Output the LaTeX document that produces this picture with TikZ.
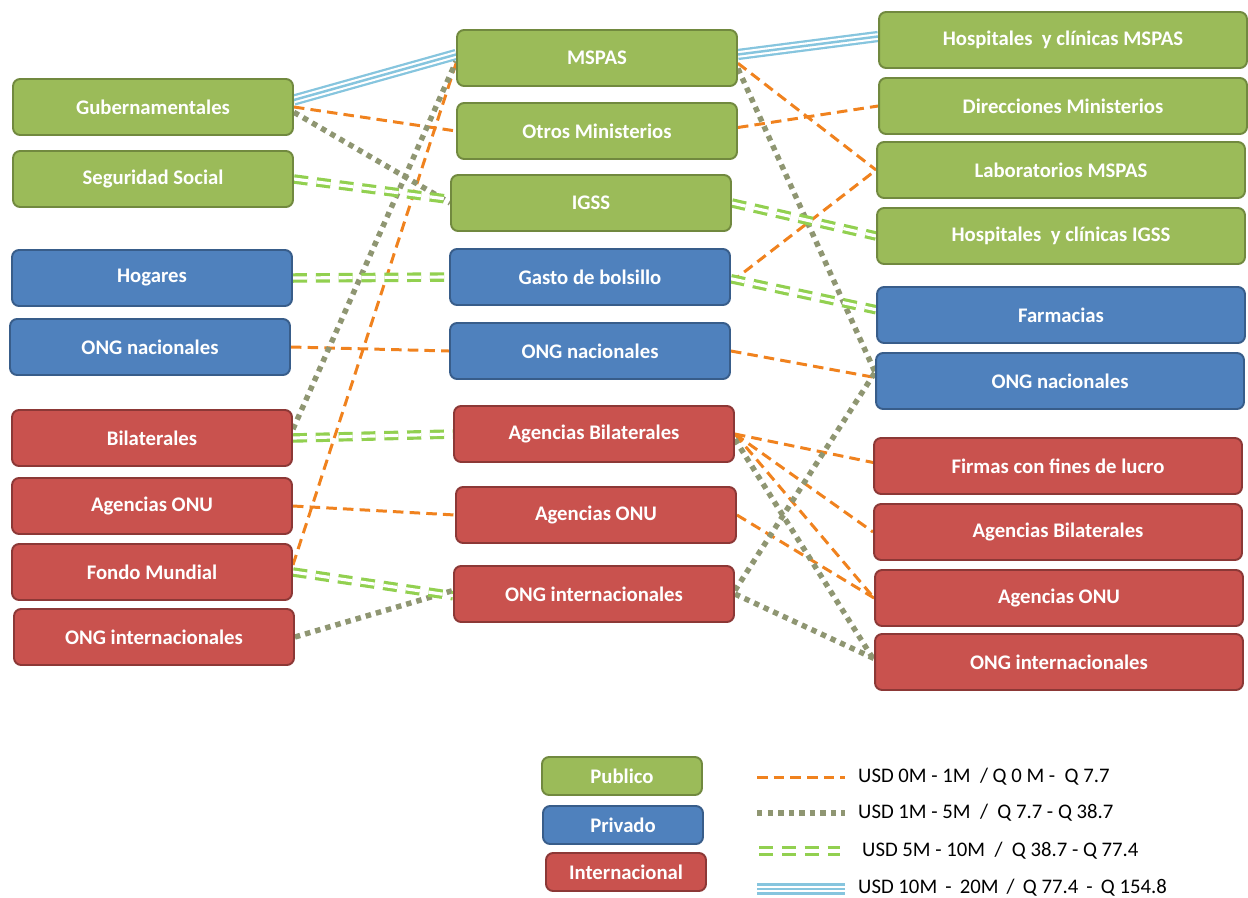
\documentclass[tikz,border=0pt]{standalone}
\usepackage{fontspec}
\setmainfont{Carlito}
\usepackage{tikz}
\usetikzlibrary{backgrounds}

\definecolor{pubfill}{HTML}{9BBB59}
\definecolor{pubedge}{HTML}{71893F}
\definecolor{privfill}{HTML}{4F81BD}
\definecolor{privedge}{HTML}{385D8A}
\definecolor{intfill}{HTML}{C9524E}
\definecolor{intedge}{HTML}{8C3836}
\definecolor{flowA}{HTML}{F0821E}
\definecolor{flowB}{HTML}{8F9672}
\definecolor{flowC}{HTML}{92D050}
\definecolor{flowD}{HTML}{86C5DE}

\tikzset{
  boxbase/.style={ rounded corners=4pt, line width=1.1pt, minimum width=5.6cm,
    minimum height=1.12cm, text=white, font=\bfseries\fontsize{11.8}{13}\selectfont }
}
\tikzset{
  pubbox/.style={ boxbase, draw=pubedge, fill=pubfill }
}
\tikzset{
  privbox/.style={ boxbase, draw=privedge, fill=privfill }
}
\tikzset{
  intbox/.style={ boxbase, draw=intedge, fill=intfill }
}
\tikzset{
  widebox/.style={ minimum width=7.36cm }
}
\tikzset{
  keybox/.style={ minimum width=3.2cm, minimum height=0.76cm }
}
% flow bands
\tikzset{
  lowflow/.style={ flowA, line width=1.7pt, dash pattern=on 6pt off 3.5pt },
  midflow/.style={ flowB, line width=3.1pt, dash pattern=on 3.1pt off 2.9pt },
  highflow/.style={ flowC, line width=1.8pt, double=white, double distance=1.8pt,
    dash pattern=on 8pt off 5pt },
  topflow/.style={ flowD, line width=6.4pt, postaction={draw, white, line width=3.8pt},
    postaction={draw, flowD, line width=1.4pt} }
}

\begin{document}
\begin{tikzpicture}[x=0.02cm, y=-0.02cm]
  \useasboundingbox (0,0) rectangle (1248,897);

  % sources
  \node[pubbox] (gub) at (153,107) {Gubernamentales};
  \node[pubbox] (segsoc) at (153,179) {Seguridad Social};
  \node[privbox] (hog) at (152,278) {Hogares};
  \node[privbox] (ongnacL) at (150,347) {ONG nacionales};
  \node[intbox] (bil) at (152,438) {Bilaterales};
  \node[intbox] (agonuL) at (152,506) {Agencias ONU};
  \node[intbox] (fondo) at (152,572) {Fondo Mundial};
  \node[intbox] (ongintL) at (154,637) {ONG internacionales};

  % agents
  \node[pubbox] (mspas) at (597,58) {MSPAS};
  \node[pubbox] (otros) at (597,131) {Otros Ministerios};
  \node[pubbox] (igss) at (591,203) {IGSS};
  \node[privbox] (gasto) at (590,277) {Gasto de bolsillo};
  \node[privbox] (ongnacM) at (590,351) {ONG nacionales};
  \node[intbox] (agbilM) at (594,434) {Agencias Bilaterales};
  \node[intbox] (agonuM) at (596,515) {Agencias ONU};
  \node[intbox] (ongintM) at (594,594) {ONG internacionales};

  % providers
  \node[pubbox, widebox] (hmspas) at (1063,40) {Hospitales\ \ y clínicas MSPAS};
  \node[pubbox, widebox] (dirmin) at (1063,106) {Direcciones Ministerios};
  \node[pubbox, widebox] (lab) at (1061,170) {Laboratorios MSPAS};
  \node[pubbox, widebox] (higss) at (1061,236) {Hospitales\ \ y clínicas IGSS};
  \node[privbox, widebox] (farm) at (1061,315) {Farmacias};
  \node[privbox, widebox] (ongnacR) at (1060,381) {ONG nacionales};
  \node[intbox, widebox] (firmas) at (1058,466) {Firmas con fines de lucro};
  \node[intbox, widebox] (agbilR) at (1058,532) {Agencias Bilaterales};
  \node[intbox, widebox] (agonuR) at (1059,598) {Agencias ONU};
  \node[intbox, widebox] (ongintR) at (1059,662) {ONG internacionales};

  % key
  \node[pubbox, keybox] (kpub) at (622,776) {Publico};
  \node[privbox, keybox] (kpriv) at (623,825) {Privado};
  \node[intbox, keybox] (kint) at (626,872) {Internacional};

  \begin{scope}[font=\fontsize{11.8}{13}\selectfont, anchor=west]
    \node (tA) at (852,777) {USD 0M - 1M\ \ / Q 0 M -\ \ Q 7.7};
    \node (tB) at (852,813) {USD 1M - 5M\ \ /\ \ Q 7.7 - Q 38.7};
    \node (tC) at (856,851) {USD 5M - 10M\ \ /\ \ Q 38.7 - Q 77.4};
    \node (tD) at (852,888) {USD 10M\,\ -\,\ 20M\,\ /\,\ Q 77.4\,\ -\,\ Q 154.8};
  \end{scope}
  \coordinate (kA1) at (757,777); \coordinate (kA2) at (845,777);
  \coordinate (kB1) at (757,813); \coordinate (kB2) at (845,813);
  \coordinate (kC1) at (759,851); \coordinate (kC2) at (840,851);
  \coordinate (kD1) at (757,889); \coordinate (kD2) at (845,889);

  \begin{scope}[on background layer]
    \draw[lowflow] (kA1) -- (kA2);
    \draw[midflow] (kB1) -- (kB2);
    \draw[highflow] (kC1) -- (kC2);
    \draw[topflow] (kD1) -- (kD2);

    \draw[topflow] ([yshift=4pt]gub.east) -- ([yshift=2pt]mspas.west);
    \draw[topflow] ([yshift=2pt]mspas.east) -- ([yshift=2pt]hmspas.west);

    \draw[lowflow] (gub.east) -- (otros.west);
    \draw[lowflow] ([yshift=2pt]otros.east) -- (dirmin.west);
    \draw[lowflow] ([yshift=-3pt]mspas.east) -- (lab.west);
    \draw[lowflow] ([yshift=-3pt]gasto.east) -- (lab.west);
    \draw[lowflow] (ongnacL.east) -- (ongnacM.west);
    \draw[lowflow] (ongnacM.east) -- ([yshift=2pt]ongnacR.west);
    \draw[lowflow] (agonuL.east) -- (agonuM.west);
    \draw[lowflow] (agbilM.east) -- ([yshift=2pt]firmas.west);
    \draw[lowflow] (agbilM.east) -- (agbilR.west);
    \draw[lowflow] (agbilM.east) -- (agonuR.west);
    \draw[lowflow] (agonuM.east) -- (agonuR.west);
    \draw[lowflow] ([yshift=4pt]fondo.east) -- ([yshift=-3pt]mspas.west);

    \draw[midflow] ([yshift=-3pt]gub.east) -- (igss.west);
    \draw[midflow] ([yshift=5pt]bil.east) -- ([yshift=-2pt]mspas.west);
    \draw[midflow] ([yshift=-6pt]mspas.east) -- ([yshift=5pt]ongnacR.west);
    \draw[midflow] ([yshift=2pt]ongintM.east) -- ([yshift=5pt]ongnacR.west);
    \draw[midflow] (ongintL.east) -- ([yshift=2pt]ongintM.west);
    \draw[midflow] (ongintM.east) -- ([yshift=2pt]ongintR.west);
    \draw[midflow] ([yshift=-3pt]agbilM.east) -- ([yshift=1pt]ongintR.west);

    \draw[highflow] (segsoc.east) -- ([yshift=2pt]igss.west);
    \draw[highflow] (igss.east) -- (higss.west);
    \draw[highflow] (hog.east) -- (gasto.west);
    \draw[highflow] ([yshift=-1pt]gasto.east) -- ([yshift=3pt]farm.west);
    \draw[highflow] (bil.east) -- (agbilM.west);
    \draw[highflow] (fondo.east) -- ([yshift=-1pt]ongintM.west);
  \end{scope}
\end{tikzpicture}
\end{document}
